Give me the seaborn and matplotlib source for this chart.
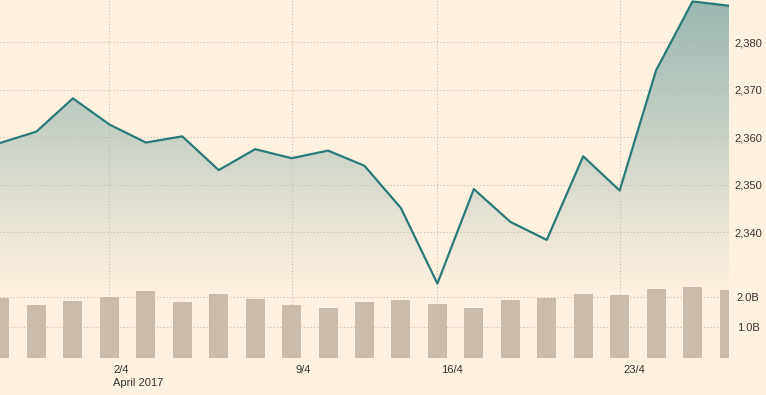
import numpy as np
import pandas as pd
import matplotlib
matplotlib.use("Agg")
import matplotlib.pyplot as plt
import matplotlib.transforms as mtransforms
from matplotlib.colors import to_rgb
import seaborn as sns

# ---- data ----
day_index = list(range(21))
price = [2358.8, 2361.2, 2368.2, 2362.7, 2358.9, 2360.2, 2353.1, 2357.5, 2355.6, 2357.2,
         2354.0, 2345.1, 2329.2, 2349.1, 2342.2, 2338.4, 2356.0, 2348.8, 2374.1, 2388.6, 2387.7]
volume_bn = [1.96, 1.73, 1.86, 1.99, 2.19, 1.83, 2.09, 1.92, 1.73, 1.63,
             1.83, 1.89, 1.76, 1.63, 1.89, 1.96, 2.09, 2.06, 2.25, 2.32, 2.22]
tick_pos = [3, 8, 12, 17]
tick_labels = ["2/4\nApril 2017", "9/4", "16/4", "23/4"]
price_ticks = [2340, 2350, 2360, 2370, 2380]
price_tick_labels = ["2,340", "2,350", "2,360", "2,370", "2,380"]
vol_ticks = [1.0, 2.0]
vol_tick_labels = ["1.0B", "2.0B"]

df = pd.DataFrame({"i": day_index, "price": price, "vol": volume_bn})

# ---- style ----
BG = "#fff1e0"
LINE = "#2a7a7b"
BAR = "#ccbba9"
GRID = "#c2b9af"
TXT = "#333333"
sns.set_style("white")
plt.rcParams["font.family"] = ["Liberation Sans", "DejaVu Sans"]
plt.rcParams["font.size"] = 8

W, H = 766, 395
fig = plt.figure(figsize=(W / 100, H / 100), dpi=100, facecolor=BG)
bottom_px = 357.7
right_px = 729
rect = [0, (H - bottom_px) / H, right_px / W, bottom_px / H]

# price axes
ax1 = fig.add_axes(rect)
ax1.set_facecolor(BG)
ytop = 2380 + 42.3 / 4.75
ybot = 2380 - (bottom_px - 42.3) / 4.75
yfade = 2380 - (292 - 42.3) / 4.75

sns.lineplot(data=df, x="i", y="price", ax=ax1, color=LINE, linewidth=1.6, zorder=3)
poly = ax1.fill_between(df["i"], df["price"], yfade, facecolor="none", edgecolor="none")

top_c = np.array(to_rgb("#9ab7b1"))
bot_c = np.array(to_rgb(BG))
t = np.linspace(0, 1, 256)[:, None]
grad = top_c[None, :] * (1 - t) + bot_c[None, :] * t
grad = np.repeat(grad[:, None, :], 2, axis=1)
im = ax1.imshow(grad, extent=[0, 20, yfade, ytop], aspect="auto", origin="upper",
                zorder=0.3, interpolation="bilinear")
im.set_clip_path(poly.get_paths()[0], transform=ax1.transData)

ax1.set_xlim(0, 20)
ax1.set_ylim(ybot, ytop)
ax1.set_axisbelow(True)
for s in ax1.spines.values():
    s.set_visible(False)
ax1.yaxis.tick_right()
ax1.set_yticks(price_ticks)
ax1.set_yticklabels(price_tick_labels)
ax1.set_xticks(tick_pos)
ax1.set_xticklabels(tick_labels, ha="left", va="top", linespacing=1.4)
ax1.tick_params(axis="y", length=0, pad=4, labelsize=8, labelcolor=TXT)
ax1.tick_params(axis="x", length=3.8, width=0.8, color="#c8bfb5", pad=1.5,
                labelsize=8, labelcolor=TXT)
off = mtransforms.ScaledTranslation(4 / 100, 0, fig.dpi_scale_trans)
for lab in ax1.get_xticklabels():
    lab.set_transform(lab.get_transform() + off)
ax1.grid(True, color=GRID, linestyle=(0, (1, 2.2)), linewidth=0.75)
ax1.set_xlabel("")
ax1.set_ylabel("")

# volume axes (overlay)
ax2 = fig.add_axes(rect)
ax2.patch.set_visible(False)
sns.barplot(data=df, x="i", y="vol", ax=ax2, native_scale=True, width=0.52,
            color=BAR, saturation=1, linewidth=0, edgecolor="none", zorder=2)
ax2.set_xlim(0, 20)
ax2.set_ylim(0, bottom_px / 30.5)
ax2.set_axisbelow(True)
for s in ax2.spines.values():
    s.set_visible(False)
ax2.yaxis.tick_right()
ax2.set_yticks(vol_ticks)
ax2.set_yticklabels(vol_tick_labels)
ax2.set_xticks([])
ax2.tick_params(axis="y", length=0, pad=5.5, labelsize=8, labelcolor=TXT)
ax2.grid(True, axis="y", color=GRID, linestyle=(0, (1, 2.2)), linewidth=0.75)
ax2.set_xlabel("")
ax2.set_ylabel("")

fig.savefig("out.png", dpi=100, facecolor=BG)
